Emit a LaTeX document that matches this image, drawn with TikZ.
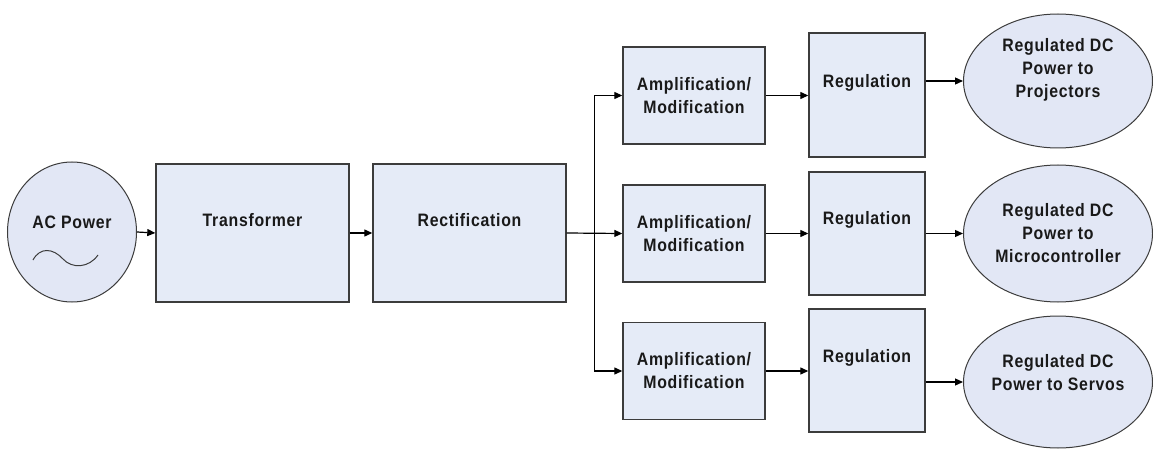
\documentclass[tikz,border=0pt]{standalone}
\usepackage{fontspec}
\usetikzlibrary{arrows.meta,calc,shapes.geometric}
\newfontfamily\lblfont{Liberation Sans}[LetterSpace=4,FakeStretch=0.88]
\definecolor{boxfill}{RGB}{229,235,247}
\definecolor{ovalfill}{RGB}{226,231,245}
\definecolor{edge}{RGB}{60,60,60}
\tikzset{
  lbl/.style={font=\lblfont\bfseries\fontsize{18}{23}\selectfont, text=black!90, align=center, inner sep=0pt},
  blk/.style={draw=edge, fill=boxfill, line width=1.4pt, inner sep=0pt},
  oval/.style={ellipse, draw=edge, fill=ovalfill, line width=1pt, inner sep=0pt},
  arr/.style={draw=black, line width=1.2pt, -{Triangle[length=8pt,width=7pt]}}
}
\begin{document}
\begin{tikzpicture}[x=1pt,y=-1pt]
\useasboundingbox (0,0) rectangle (1153,449);

% source
\node[oval, minimum width=129, minimum height=140] (ac) at (72,232) {};
\node[lbl] (acl) at (72,222) {AC Power};
\draw[line width=1pt, edge] (33,260) .. controls (40,247) and (53,248) .. (63,259)
  .. controls (72,269) and (89,268) .. (98,255);

% main chain
\node[blk, minimum width=193, minimum height=138] (tr) at (252.5,233) {};
\node[lbl] (trl) at (252.5,220) {Transformer};
\node[blk, minimum width=193, minimum height=138] (rc) at (469.5,233) {};
\node[lbl] (rcl) at (469.5,220) {Rectification};

% branch stages
\node[blk, minimum width=142, minimum height=97, lbl] (a1) at (694,95.5) {Amplification/\\Modification};
\node[blk, minimum width=142, minimum height=97, lbl] (a2) at (694,233.5) {Amplification/\\Modification};
\node[blk, minimum width=142, minimum height=97, lbl] (a3) at (694,371) {Amplification/\\Modification};

\node[blk, minimum width=116, minimum height=124] (r1) at (867,95) {};
\node[lbl] (r1l) at (867,83) {Regulation};
\node[blk, minimum width=116, minimum height=123] (r2) at (867,233.5) {};
\node[lbl] (r2l) at (867,220) {Regulation};
\node[blk, minimum width=116, minimum height=123] (r3) at (867,370.5) {};
\node[lbl] (r3l) at (867,358) {Regulation};

% outputs
\node[oval, minimum width=189, minimum height=134] (o1) at (1058,81) {};
\node[lbl] (o1l) at (1058,70) {Regulated DC\\Power to\\Projectors};
\node[oval, minimum width=189, minimum height=137] (o2) at (1058,233.5) {};
\node[lbl] (o2l) at (1058,233) {Regulated DC\\Power to\\Microcontroller};
\node[oval, minimum width=189, minimum height=132] (o3) at (1058,382) {};
\node[lbl] (o3l) at (1058,372.5) {Regulated DC\\Power to Servos};

% connectors
\draw[arr] (ac.east) -- (tr.west);
\draw[arr] (tr.east) -- (rc.west);
\draw[arr] (rc.east) -- (a2.west);
\coordinate (split) at ($(rc.east)!0.5!(a2.west)$);
\draw[arr] (split) |- (a1.west);
\draw[arr] (split) |- (a3.west);

\draw[arr] (a1.east) -- (r1.west |- a1.east);
\draw[arr] (a2.east) -- (r2.west |- a2.east);
\draw[arr] (a3.east) -- (r3.west |- a3.east);

\draw[arr] (r1.east |- o1.west) -- (o1.west);
\draw[arr] (r2.east |- o2.west) -- (o2.west);
\draw[arr] (r3.east |- o3.west) -- (o3.west);
\end{tikzpicture}
\end{document}
